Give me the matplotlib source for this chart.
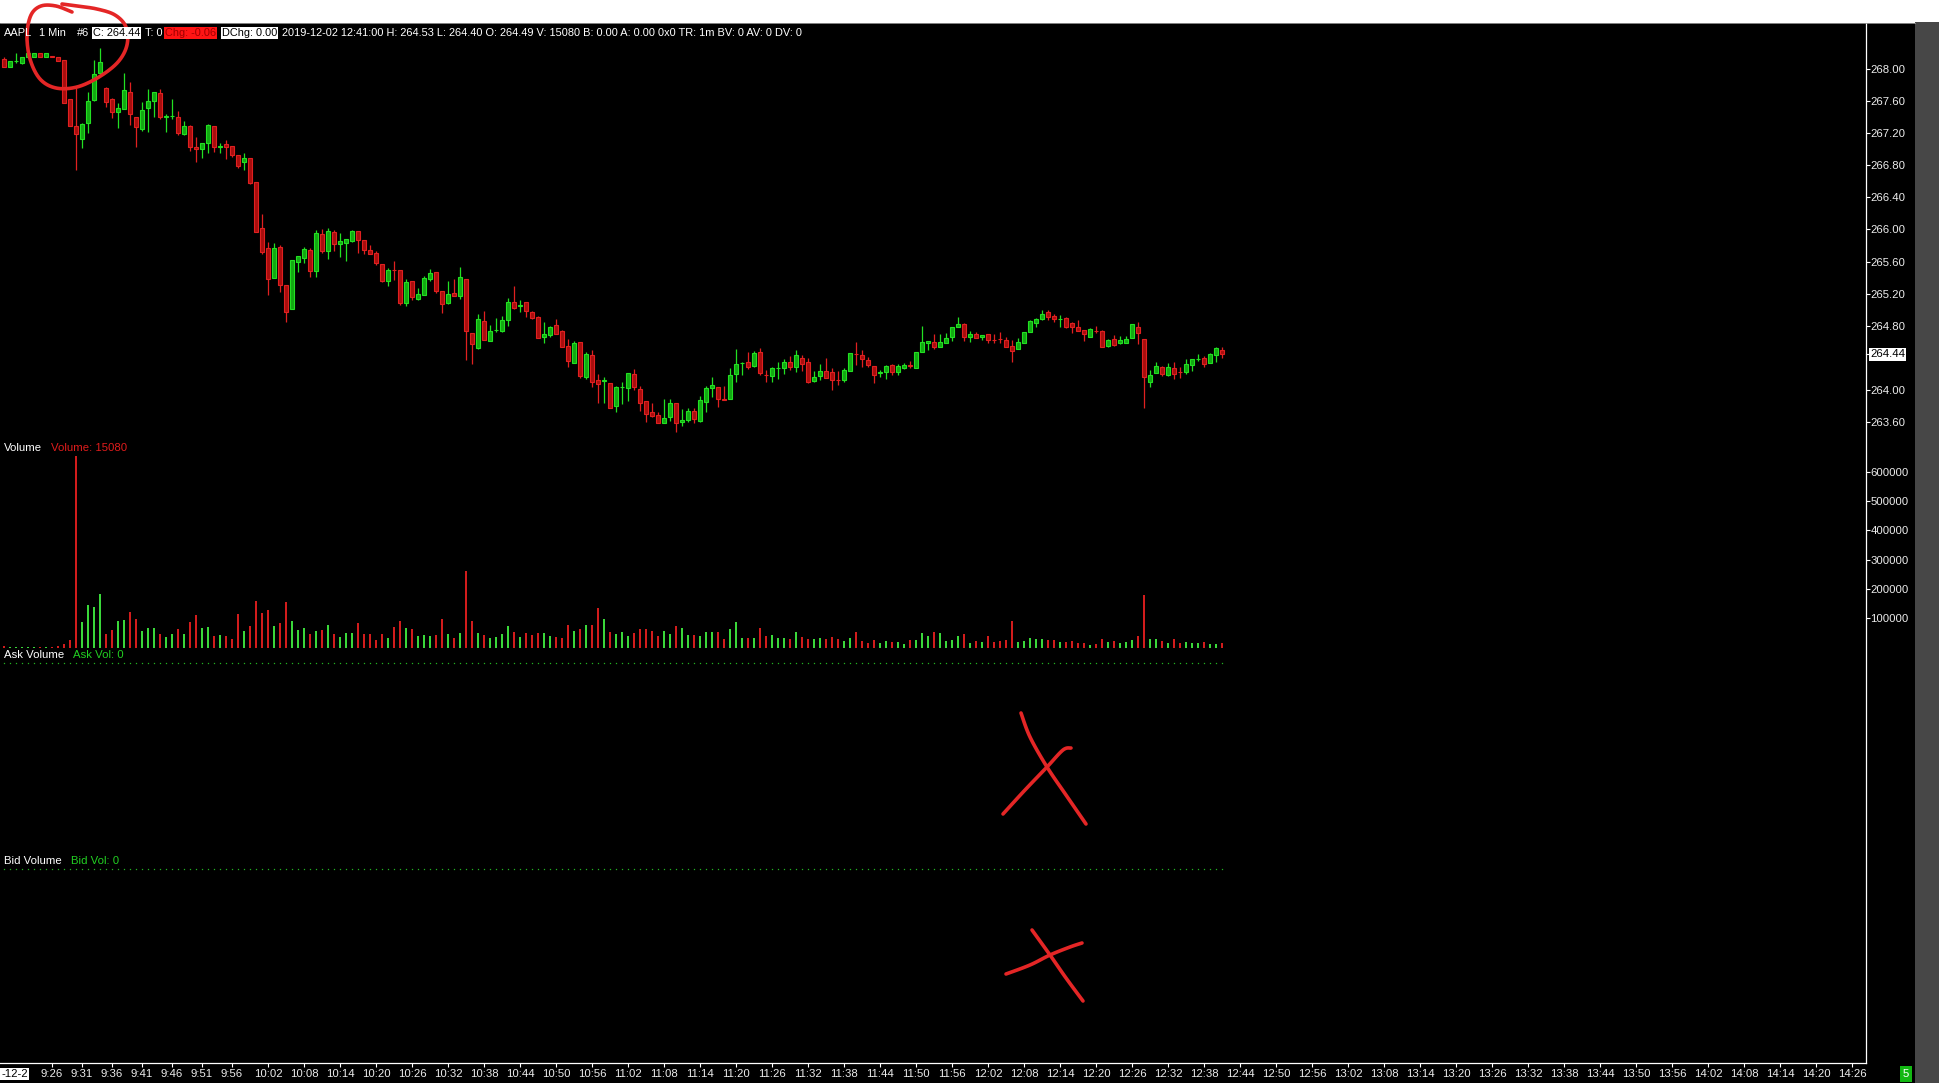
import numpy as np
import matplotlib
matplotlib.use("Agg")
import matplotlib.pyplot as plt
from matplotlib import font_manager as fm
from matplotlib.patches import Rectangle

W, H = 1940, 1083

# ---------------- data ----------------
symbol = "AAPL"
session_date = "2019-12-02"
start_time = "9:18"          # time of first bar (1-minute bars)

opens = [268.125, 268.033, 268.10, 268.083, 268.15, 268.15, 268.20, 268.15, 268.165, 268.154,
         268.116, 267.625, 267.292, 267.13, 267.334, 267.617, 267.95, 267.771, 267.629, 267.471,
         267.509, 267.713, 267.40, 267.25, 267.513, 267.609, 267.70, 267.405, 267.413, 267.40,
         267.192, 267.292, 267.034, 267.00, 267.076, 267.292, 267.034, 267.063, 267.042, 266.93,
         266.839, 266.889, 266.589, 266.015, 265.765, 265.39, 265.786, 265.307, 265.004, 265.599,
         265.649, 265.744, 265.486, 265.944, 265.736, 265.965, 265.815, 265.836, 265.861, 265.981,
         265.869, 265.744, 265.703, 265.565, 265.357, 265.495, 265.495, 265.079, 265.357, 265.132,
         265.182, 265.382, 265.465, 265.232, 265.086, 265.203, 265.174, 265.382, 264.703, 264.524,
         264.857, 264.612, 264.743, 264.737, 264.87, 265.091, 265.05, 265.091, 264.966, 264.912,
         264.662, 264.683, 264.803, 264.733, 264.545, 264.337, 264.591, 264.163, 264.433, 264.121,
         264.112, 264.08, 263.80, 264.035, 264.025, 264.191, 264.009, 263.859, 263.717, 263.684,
         263.588, 263.663, 263.83, 263.592, 263.621, 263.738, 263.613, 263.85, 264.025, 264.03,
         263.88, 263.88, 264.192, 264.336, 264.342, 264.30, 264.466, 264.185, 264.175, 264.273,
         264.275, 264.342, 264.279, 264.391, 264.342, 264.113, 264.175, 264.233, 264.216, 264.122,
         264.12, 264.237, 264.447, 264.432, 264.37, 264.295, 264.214, 264.224, 264.308, 264.224,
         264.274, 264.302, 264.274, 264.466, 264.578, 264.591, 264.537, 264.578, 264.661, 264.786,
         264.819, 264.661, 264.695, 264.653, 264.695, 264.622, 264.63, 264.62, 264.549, 264.507,
         264.587, 264.724, 264.836, 264.882, 264.965, 264.924, 264.88, 264.89, 264.828, 264.786,
         264.745, 264.661, 264.738, 264.732, 264.549, 264.632, 264.578, 264.578, 264.64, 264.786,
         264.628, 264.099, 264.212, 264.278, 264.183, 264.27, 264.225, 264.224, 264.303, 264.383,
         264.391, 264.337, 264.432, 264.49]

highs = [268.158, 268.10, 268.20, 268.15, 268.20, 268.20, 268.20, 268.20, 268.165, 268.154,
         268.116, 267.625, 267.763, 267.334, 267.721, 268.116, 268.262, 267.783, 267.637, 267.575,
         267.95, 267.838, 267.40, 267.596, 267.75, 267.713, 267.75, 267.442, 267.625, 267.48,
         267.355, 267.305, 267.15, 267.076, 267.313, 267.292, 267.076, 267.117, 267.042, 266.93,
         266.951, 266.889, 266.589, 266.19, 265.848, 265.827, 265.807, 265.307, 265.619, 265.669,
         265.786, 265.765, 265.994, 266.002, 266.015, 265.994, 265.952, 265.877, 265.994, 265.981,
         265.869, 265.807, 265.736, 265.565, 265.515, 265.607, 265.495, 265.382, 265.357, 265.274,
         265.419, 265.507, 265.465, 265.232, 265.357, 265.382, 265.528, 265.382, 264.703, 264.945,
         264.982, 264.808, 264.891, 264.92, 265.149, 265.295, 265.12, 265.091, 264.982, 264.92,
         264.841, 264.799, 264.878, 264.745, 264.629, 264.608, 264.60, 264.466, 264.495, 264.196,
         264.154, 264.08, 264.05, 264.10, 264.212, 264.258, 264.046, 263.859, 263.83, 263.717,
         263.884, 263.879, 263.83, 263.754, 263.775, 263.767, 263.921, 264.05, 264.163, 264.03,
         264.046, 264.267, 264.508, 264.35, 264.466, 264.483, 264.516, 264.246, 264.288, 264.35,
         264.383, 264.425, 264.495, 264.433, 264.391, 264.238, 264.32, 264.391, 264.266, 264.233,
         264.266, 264.453, 264.591, 264.495, 264.403, 264.295, 264.245, 264.308, 264.32, 264.32,
         264.328, 264.358, 264.466, 264.795, 264.607, 264.695, 264.695, 264.711, 264.778, 264.911,
         264.836, 264.732, 264.724, 264.682, 264.695, 264.69, 264.724, 264.661, 264.62, 264.64,
         264.724, 264.869, 264.899, 264.994, 264.994, 264.94, 264.932, 264.911, 264.849, 264.869,
         264.745, 264.765, 264.795, 264.745, 264.628, 264.682, 264.669, 264.669, 264.819, 264.84,
         264.628, 264.245, 264.349, 264.295, 264.328, 264.349, 264.278, 264.378, 264.378, 264.445,
         264.42, 264.462, 264.537, 264.53]

lows = [268.033, 268.033, 268.075, 268.066, 268.15, 268.15, 268.15, 268.15, 268.155, 268.108,
        267.584, 267.296, 266.743, 267.013, 267.209, 267.609, 267.929, 267.534, 267.396, 267.263,
        267.50, 267.305, 267.034, 267.234, 267.221, 267.40, 267.38, 267.221, 267.38, 267.18,
        267.18, 266.984, 266.847, 266.889, 266.951, 266.964, 266.951, 266.876, 266.91, 266.772,
        266.743, 266.568, 265.973, 265.69, 265.182, 265.39, 265.224, 264.85, 265.004, 265.474,
        265.578, 265.403, 265.403, 265.703, 265.632, 265.736, 265.661, 265.611, 265.84, 265.703,
        265.694, 265.694, 265.557, 265.349, 265.299, 265.37, 265.058, 265.05, 265.12, 265.12,
        265.182, 265.361, 265.211, 264.962, 265.066, 265.174, 265.128, 264.37, 264.32, 264.508,
        264.62, 264.612, 264.724, 264.716, 264.799, 265.003, 264.974, 264.903, 264.878, 264.65,
        264.587, 264.662, 264.691, 264.529, 264.279, 264.337, 264.142, 264.13, 264.038, 263.83,
        263.838, 263.767, 263.725, 263.817, 263.863, 263.996, 263.738, 263.592, 263.654, 263.58,
        263.58, 263.613, 263.476, 263.55, 263.592, 263.58, 263.592, 263.725, 263.913, 263.788,
        263.875, 263.88, 264.10, 264.183, 264.258, 264.279, 264.183, 264.10, 264.092, 264.134,
        264.192, 264.246, 264.225, 264.233, 264.087, 264.092, 264.12, 264.15, 263.995, 264.058,
        264.10, 264.237, 264.308, 264.287, 264.278, 264.087, 264.162, 264.133, 264.183, 264.183,
        264.258, 264.266, 264.274, 264.466, 264.495, 264.503, 264.537, 264.578, 264.612, 264.786,
        264.607, 264.599, 264.649, 264.62, 264.578, 264.578, 264.578, 264.537, 264.349, 264.507,
        264.587, 264.724, 264.786, 264.869, 264.869, 264.849, 264.786, 264.774, 264.711, 264.736,
        264.612, 264.661, 264.711, 264.537, 264.537, 264.549, 264.566, 264.578, 264.64, 264.566,
        263.775, 264.037, 264.212, 264.17, 264.175, 264.133, 264.15, 264.191, 264.233, 264.358,
        264.278, 264.337, 264.35, 264.40]

closes = [268.033, 268.10, 268.104, 268.15, 268.20, 268.20, 268.15, 268.20, 268.158, 268.108,
          267.584, 267.296, 267.188, 267.313, 267.604, 267.942, 268.091, 267.596, 267.471, 267.513,
          267.742, 267.438, 267.284, 267.492, 267.604, 267.713, 267.409, 267.413, 267.421, 267.209,
          267.296, 267.034, 267.00, 267.076, 267.305, 267.034, 267.04, 267.034, 266.93, 266.797,
          266.889, 266.577, 265.973, 265.715, 265.378, 265.765, 265.307, 264.966, 265.619, 265.669,
          265.753, 265.486, 265.952, 265.736, 265.981, 265.815, 265.857, 265.877, 265.981, 265.869,
          265.744, 265.694, 265.586, 265.361, 265.495, 265.49, 265.079, 265.34, 265.162, 265.19,
          265.39, 265.453, 265.232, 265.074, 265.19, 265.174, 265.403, 264.737, 264.57, 264.878,
          264.62, 264.737, 264.745, 264.87, 265.091, 265.016, 265.058, 264.987, 264.891, 264.65,
          264.695, 264.787, 264.691, 264.537, 264.358, 264.579, 264.175, 264.445, 264.10, 264.067,
          264.115, 263.767, 264.03, 264.038, 264.204, 264.038, 263.83, 263.692, 263.675, 263.588,
          263.642, 263.838, 263.58, 263.621, 263.734, 263.63, 263.871, 264.017, 264.059, 263.88,
          263.875, 264.183, 264.32, 264.338, 264.288, 264.462, 264.204, 264.183, 264.267, 264.275,
          264.35, 264.279, 264.433, 264.317, 264.092, 264.154, 264.233, 264.15, 264.12, 264.12,
          264.245, 264.453, 264.445, 264.383, 264.308, 264.183, 264.217, 264.299, 264.224, 264.295,
          264.308, 264.30, 264.466, 264.591, 264.607, 264.537, 264.591, 264.64, 264.778, 264.819,
          264.661, 264.69, 264.649, 264.682, 264.62, 264.62, 264.628, 264.537, 264.487, 264.591,
          264.715, 264.857, 264.882, 264.94, 264.911, 264.882, 264.882, 264.786, 264.786, 264.736,
          264.69, 264.757, 264.736, 264.537, 264.62, 264.557, 264.62, 264.632, 264.819, 264.703,
          264.162, 264.183, 264.295, 264.195, 264.278, 264.195, 264.224, 264.316, 264.378, 264.385,
          264.32, 264.445, 264.516, 264.44]

volumes = [5000, 3000, 3000, 3000, 3000, 3000, 3000, 3000, 3000, 5000,
           11000, 25000, 654000, 88000, 146000, 139000, 184000, 48000, 60000, 91000,
           94000, 122000, 98000, 57000, 67000, 67000, 48000, 36000, 48000, 64000,
           48000, 88000, 111000, 67000, 71000, 40000, 43000, 40000, 30000, 115000,
           57000, 74000, 159000, 118000, 129000, 74000, 84000, 156000, 91000, 60000,
           67000, 47000, 57000, 60000, 77000, 47000, 36000, 50000, 50000, 84000,
           47000, 47000, 26000, 47000, 33000, 71000, 91000, 67000, 64000, 40000,
           43000, 40000, 43000, 98000, 47000, 33000, 50000, 262000, 91000, 50000,
           43000, 33000, 36000, 47000, 74000, 53000, 36000, 50000, 43000, 50000,
           50000, 40000, 36000, 33000, 77000, 57000, 64000, 77000, 77000, 135000,
           98000, 53000, 47000, 53000, 40000, 50000, 64000, 64000, 57000, 40000,
           57000, 47000, 74000, 67000, 43000, 43000, 40000, 53000, 53000, 53000,
           30000, 64000, 88000, 33000, 33000, 33000, 67000, 40000, 43000, 33000,
           33000, 30000, 53000, 36000, 30000, 30000, 33000, 30000, 36000, 30000,
           23000, 33000, 53000, 23000, 16000, 26000, 16000, 23000, 19000, 19000,
           12000, 26000, 26000, 50000, 40000, 53000, 50000, 23000, 26000, 40000,
           47000, 16000, 23000, 19000, 40000, 19000, 23000, 26000, 91000, 19000,
           23000, 33000, 30000, 30000, 26000, 26000, 19000, 19000, 23000, 16000,
           16000, 9000, 12000, 30000, 19000, 23000, 16000, 19000, 26000, 40000,
           180000, 30000, 30000, 23000, 16000, 30000, 16000, 19000, 16000, 16000,
           19000, 12000, 12000, 15080]

ask_volume = [0] * len(opens)
bid_volume = [0] * len(opens)

price_ticks = [268.00, 267.60, 267.20, 266.80, 266.40, 266.00, 265.60, 265.20, 264.80,
               264.00, 263.60]
volume_ticks = [100000, 200000, 300000, 400000, 500000, 600000]
time_labels = ["9:26", "9:31", "9:36", "9:41", "9:46", "9:51", "9:56",
               "10:02", "10:08", "10:14", "10:20", "10:26", "10:32", "10:38", "10:44",
               "10:50", "10:56", "11:02", "11:08", "11:14", "11:20", "11:26", "11:32",
               "11:38", "11:44", "11:50", "11:56", "12:02", "12:08", "12:14", "12:20",
               "12:26", "12:32", "12:38", "12:44", "12:50", "12:56", "13:02", "13:08",
               "13:14", "13:20", "13:26", "13:32", "13:38", "13:44", "13:50", "13:56",
               "14:02", "14:08", "14:14", "14:20", "14:26"]
date_stub = "-12-2"
chg = -0.06
dchg = 0.00

# ---------------- fonts ----------------
def pick_font(names):
    for n in names:
        try:
            fm.findfont(fm.FontProperties(family=n), fallback_to_default=False)
            return n
        except Exception:
            pass
    return "DejaVu Sans"

FONT = pick_font(["Liberation Sans Narrow", "Liberation Sans"])
plt.rcParams["font.family"] = [FONT, "DejaVu Sans"]
FS = 8.2
FSH = 7.95

# ---------------- helpers ----------------
def to_min(s):
    h, m = s.split(":")
    return int(h) * 60 + int(m)

t0 = to_min(start_time)
n = len(opens)
x = np.arange(n)
o = np.array(opens); h = np.array(highs); l = np.array(lows); c = np.array(closes)
v = np.array(volumes)
up = c >= o

G_EDGE, G_FACE = "#22e022", "#12a812"
R_EDGE, R_FACE = "#e02020", "#a80d0d"
VG, VR = "#3ad83a", "#d21c1c"

def rect(x0, y0, x1, y1):
    return [x0 / W, 1 - y1 / H, (x1 - x0) / W, (y1 - y0) / H]

# pixel geometry
X_RIGHT = 1866
XLIM = (-4 / 6.0, (X_RIGHT - 4) / 6.0)

fig = plt.figure(figsize=(W / 100, H / 100), dpi=100, facecolor="white")
fig.add_artist(Rectangle((0, 0), 1915 / W, 1 - 23 / H, transform=fig.transFigure,
                         facecolor="black", edgecolor="none", zorder=-10))
fig.add_artist(Rectangle((1915 / W, 0), 25 / W, 1 - 22 / H, transform=fig.transFigure,
                         facecolor="#474747", edgecolor="none", zorder=-9))

def style_right(ax):
    for s in ax.spines.values():
        s.set_visible(False)
    ax.set_facecolor("none")
    ax.set_xlim(*XLIM)
    ax.set_xticks([])
    ax.yaxis.tick_right()
    ax.tick_params(axis="y", colors="white", labelcolor="#ececec", length=2.6,
                   width=0.8, pad=0.6, labelsize=FS)

# ---- price panel ----
ax_p = fig.add_axes(rect(0, 23, X_RIGHT, 437))
style_right(ax_p)
p_top = 268.0 + (69.3 - 23) / 80.09
p_bot = 268.0 - (437 - 69.3) / 80.09
ax_p.set_ylim(p_bot, p_top)
ax_p.set_yticks(price_ticks)
ax_p.set_yticklabels([f"{t:.2f}" for t in price_ticks])
ax_p.vlines(x, l, h, colors=np.where(up, G_EDGE, R_EDGE), linewidth=0.9, zorder=2)
ax_p.bar(x, np.maximum(np.abs(c - o), 0.0005), bottom=np.minimum(o, c), width=0.74,
         color=np.where(up, G_FACE, R_FACE), edgecolor=np.where(up, G_EDGE, R_EDGE),
         linewidth=0.8, zorder=3)
ax_p.text(1 + 4 / X_RIGHT, c[-1], f"{c[-1]:.2f}", transform=ax_p.get_yaxis_transform(),
          ha="left", va="center", fontsize=FS, color="black",
          bbox=dict(boxstyle="square,pad=0.12", facecolor="white", edgecolor="none"))
ax_p.plot([1, 1 + 3 / X_RIGHT], [c[-1], c[-1]], transform=ax_p.get_yaxis_transform(),
          color="white", lw=0.8, clip_on=False)

# ---- volume panel ----
ax_v = fig.add_axes(rect(0, 437, X_RIGHT, 650))
style_right(ax_v)
ax_v.set_ylim((647.6 - 650) / 29.3 * 1e5, (647.6 - 437) / 29.3 * 1e5)
ax_v.set_yticks(volume_ticks)
ax_v.set_yticklabels([str(t) for t in volume_ticks])
ax_v.bar(x, v, width=0.38, color=np.where(up, VG, VR), linewidth=0)

# ---- ask volume panel ----
ax_a = fig.add_axes(rect(0, 650, X_RIGHT, 855))
style_right(ax_a)
ax_a.set_yticks([])
ax_a.set_ylim(-1, 0.066)
ax_a.plot(x, ask_volume, linestyle="none", marker="s", markersize=0.9,
          color="#22b022", markeredgewidth=0)

# ---- bid volume panel + time axis ----
ax_b = fig.add_axes(rect(0, 855, X_RIGHT, 1063))
style_right(ax_b)
ax_b.set_yticks([])
ax_b.set_ylim(-1, 0.073)
ax_b.plot(x, bid_volume, linestyle="none", marker="s", markersize=0.9,
          color="#22b022", markeredgewidth=0)
ax_b.spines["bottom"].set_visible(True)
ax_b.spines["bottom"].set_color("white")
ax_b.spines["bottom"].set_linewidth(0.9)
ax_b.set_xticks([to_min(s) - t0 for s in time_labels])
ax_b.set_xticklabels(time_labels)
ax_b.tick_params(axis="x", colors="white", labelcolor="#ececec", length=3,
                 width=0.8, pad=1.5, labelsize=FS)

# ---- overlay in pixel coordinates ----
ov = fig.add_axes([0, 0, 1, 1])
ov.set_xlim(0, W); ov.set_ylim(H, 0); ov.axis("off"); ov.set_zorder(10)
ov.patch.set_alpha(0)

# right separator line
ov.plot([X_RIGHT, X_RIGHT], [23, 1063], color="white", lw=0.9)
ov.plot([0, 1915], [22.5, 22.5], color="#9a9a9a", lw=0.6)

# header
YH = 33
segs = [
    (4, "AAPL", "white", None),
    (39, "1 Min", "white", None),
    (77, "#6", "white", None),
    (93, f"C: {c[-1]:.2f}", "black", "white"),
    (145, "T: 0", "white", None),
    (165, f"Chg: {chg:.2f}", "#a00000", "#ff1414"),
    (222, f"DChg: {dchg:.2f}", "black", "white"),
    (282, f"{session_date} 12:41:00 H: {h[-1]:.2f} L: {l[-1]:.2f} O: {o[-1]:.2f} "
          f"V: {v[-1]} B: 0.00 A: 0.00 0x0 TR: 1m BV: 0 AV: 0 DV: 0", "white", None),
]
for xx, s, col, bg in segs:
    kw = {}
    if bg:
        kw["bbox"] = dict(boxstyle="square,pad=0.1", facecolor=bg, edgecolor="none")
    ov.text(xx, YH, s, ha="left", va="center", fontsize=FSH, color=col, **kw)

# panel titles
ov.text(4, 448, "Volume", ha="left", va="center", fontsize=FS, color="white")
ov.text(51, 448, f"Volume: {v[-1]}", ha="left", va="center", fontsize=FS, color="#e01c1c")
ov.text(4, 655, "Ask Volume", ha="left", va="center", fontsize=FS, color="white")
ov.text(73, 655, f"Ask Vol: {ask_volume[-1]}", ha="left", va="center", fontsize=FS,
        color="#22d022")
ov.text(4, 861, "Bid Volume", ha="left", va="center", fontsize=FS, color="white")
ov.text(71, 861, f"Bid Vol: {bid_volume[-1]}", ha="left", va="center", fontsize=FS,
        color="#22d022")

# bottom-left date stub and bottom-right badge
ov.text(1, 1074, date_stub, ha="left", va="center", fontsize=FS, color="black",
        bbox=dict(boxstyle="square,pad=0.1", facecolor="white", edgecolor="none"))
ov.text(1906, 1074, "5", ha="center", va="center", fontsize=FS, color="white",
        bbox=dict(boxstyle="square,pad=0.25", facecolor="#12b812", edgecolor="none"))

# hand-drawn annotations
def smooth(pts, k=14):
    P = np.asarray(pts, float)
    P = np.vstack([P[0], P, P[-1]])
    out = []
    for i in range(1, len(P) - 2):
        p0, p1, p2, p3 = P[i - 1], P[i], P[i + 1], P[i + 2]
        for t in np.linspace(0, 1, k, endpoint=False):
            out.append(0.5 * (2 * p1 + (-p0 + p2) * t + (2 * p0 - 5 * p1 + 4 * p2 - p3) * t * t
                              + (-p0 + 3 * p1 - 3 * p2 + p3) * t ** 3))
    out.append(P[-2])
    return np.array(out)

INK = "#e42626"
strokes = [
    [(72, 12), (56, 6), (41, 6), (31, 15), (27, 35), (30, 59), (40, 79), (56, 88), (77, 87),
     (99, 77), (118, 62), (127, 45), (126, 27), (115, 15), (97, 9), (77, 6), (62, 4)],
    [(1021, 713), (1030, 737), (1047, 767), (1066, 795), (1086, 824)],
    [(1003, 814), (1025, 790), (1047, 767), (1063, 750), (1071, 748)],
    [(1032, 930), (1050, 955), (1066, 978), (1083, 1001)],
    [(1006, 974), (1030, 965), (1050, 955), (1070, 947), (1082, 943)],
]
for s in strokes:
    p = smooth(s)
    ov.plot(p[:, 0], p[:, 1], color=INK, lw=2.6, solid_capstyle="round")

fig.savefig("out.png", dpi=100, facecolor="white")
